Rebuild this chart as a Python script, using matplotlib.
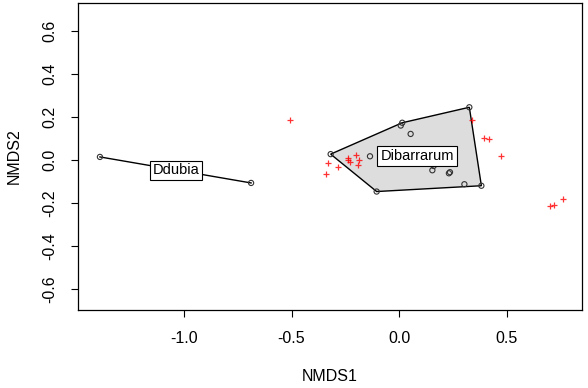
import numpy as np
import matplotlib.pyplot as plt
from matplotlib.patches import Polygon

plt.rcParams['font.family'] = ['Liberation Sans', 'DejaVu Sans']

# site scores (open circles)
dub_x = [-1.391, -0.688]
dub_y = [0.014, -0.107]

dib_x = [-0.318, 0.015, 0.327, 0.383, -0.104, 0.054, -0.135, 0.161, 0.155, 0.237, 0.232, 0.304, 0.008]
dib_y = [0.027, 0.173, 0.245, -0.120, -0.147, 0.121, 0.017, -0.028, -0.048, -0.057, -0.062, -0.113, 0.160]

# hull vertices (Dibarrarum), in order
hull_x = [-0.318, 0.015, 0.327, 0.383, -0.104]
hull_y = [0.027, 0.173, 0.245, -0.120, -0.147]

# species scores (red crosses)
sp_x = [-0.507, 0.340, 0.395, 0.419, 0.473, -0.332, -0.282, -0.340, -0.200, -0.239,
        -0.228, -0.186, -0.189, -0.236, 0.702, 0.722, 0.764]
sp_y = [0.185, 0.185, 0.102, 0.096, 0.017, -0.015, -0.033, -0.067, 0.022, 0.008,
        -0.008, 0.000, -0.025, -0.002, -0.215, -0.209, -0.183]

labels = ['Ddubia', 'Dibarrarum']
lab_x = [-1.037, 0.084]
lab_y = [-0.049, 0.019]

fig = plt.figure(figsize=(5.88, 3.88), dpi=100)
ax = fig.add_axes([78/588, 78/388, 504/588, 307/388])

ax.add_patch(Polygon(np.column_stack([hull_x, hull_y]), closed=True,
                     facecolor='#dddddd', edgecolor='black', lw=1, zorder=1))
ax.plot(dub_x, dub_y, color='black', lw=1, zorder=1)

ax.scatter(dub_x + dib_x, dub_y + dib_y, s=14, facecolors='none',
           edgecolors='#333333', linewidths=0.8, zorder=3)
ax.scatter(sp_x, sp_y, marker='+', s=22, color='red', linewidths=0.9,
           alpha=0.8, zorder=4)

for t, x, y in zip(labels, lab_x, lab_y):
    ax.text(x, y, t, ha='center', va='center', fontsize=10.5, zorder=5,
            bbox=dict(boxstyle='square,pad=0.2', fc='white', ec='black', lw=0.8))

ax.set_xlim(-1.493, 0.851)
ax.set_ylim(-0.698, 0.730)
ax.set_xticks([-1.0, -0.5, 0.0, 0.5])
ax.set_xticklabels(['-1.0', '-0.5', '0.0', '0.5'])
ax.set_yticks([-0.6, -0.4, -0.2, 0.0, 0.2, 0.4, 0.6])
ax.set_yticklabels(['-0.6', '-0.4', '-0.2', '0.0', '0.2', '0.4', '0.6'],
                   rotation=90, va='center')
ax.tick_params(length=5, width=0.8, labelsize=11.5, pad=10)
ax.set_xlabel('NMDS1', fontsize=11.5, labelpad=17)
ax.set_ylabel('NMDS2', fontsize=11.5, labelpad=15)
for s in ax.spines.values():
    s.set_linewidth(0.9)

fig.savefig('out.png', dpi=100)
